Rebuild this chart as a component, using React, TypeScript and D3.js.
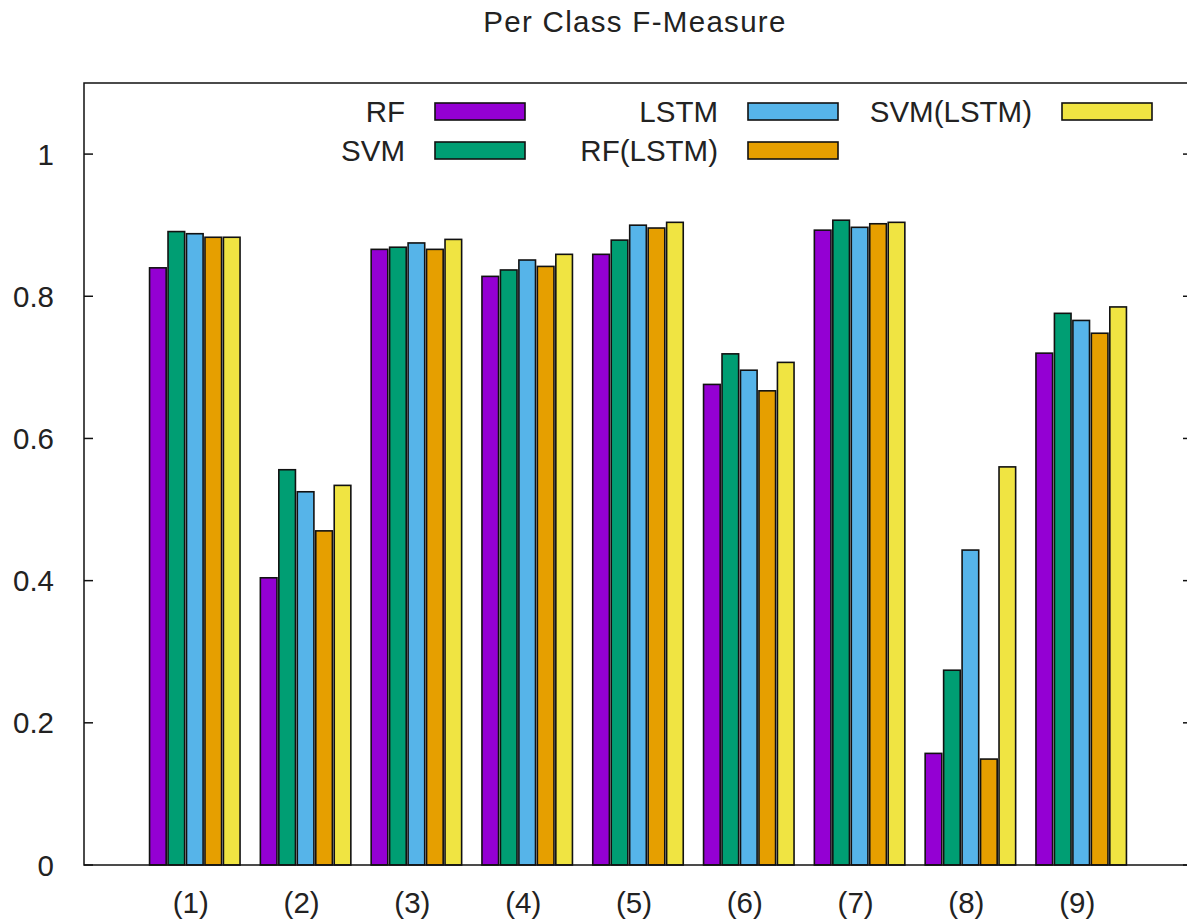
import React from 'react';
import * as d3 from 'd3';

const categories = ['(1)', '(2)', '(3)', '(4)', '(5)', '(6)', '(7)', '(8)', '(9)'];
const seriesNames = ['RF', 'SVM', 'LSTM', 'RF(LSTM)', 'SVM(LSTM)'];
const seriesColors = ['#9400d3', '#009e73', '#56b4e9', '#e69f00', '#f0e442'];

const rfValues = [0.840, 0.404, 0.866, 0.828, 0.859, 0.676, 0.893, 0.157, 0.720];
const svmValues = [0.891, 0.556, 0.869, 0.837, 0.879, 0.719, 0.907, 0.274, 0.776];
const lstmValues = [0.888, 0.525, 0.875, 0.851, 0.900, 0.696, 0.897, 0.443, 0.766];
const rfLstmValues = [0.883, 0.470, 0.866, 0.842, 0.896, 0.667, 0.902, 0.149, 0.748];
const svmLstmValues = [0.883, 0.534, 0.880, 0.859, 0.904, 0.707, 0.904, 0.560, 0.785];

const yTicks = [0, 0.2, 0.4, 0.6, 0.8, 1];

const W = 1187;
const H = 922;
const margin = { left: 84, top: 83, right: 1192, bottom: 865 };
const font = '"Liberation Sans", Arial, sans-serif';
const textColor = '#222';
const fs = 29.5;

export default function App() {
  const series = [rfValues, svmValues, lstmValues, rfLstmValues, svmLstmValues];

  // gnuplot style: x runs from -1 to n, one unit per cluster
  const x = d3.scaleLinear().domain([-1, categories.length]).range([margin.left, margin.right]);
  const y = d3.scaleLinear().domain([0, 1.1]).range([margin.bottom, margin.top]);

  const slot = 1 / (series.length + 1);
  const barW = x(0.9 * slot) - x(0);

  const legendCols = [435, 748, 1062];
  const legendRows = [111.5, 150.5];

  return (
    <svg width={W} height={H} style={{ position: 'absolute', left: 0, top: 0, background: '#fff' }}>
      <text x={635} y={32} textAnchor="middle" fontFamily={font} fontSize={fs} letterSpacing={1.3} fill={textColor}>
        Per Class F-Measure
      </text>

      {series.map((vals, j) =>
        vals.map((v, i) => {
          const cx = x(i + (j - (series.length - 1) / 2) * slot);
          return (
            <rect
              key={`${j}-${i}`}
              x={cx - barW / 2}
              y={y(v)}
              width={barW}
              height={y(0) - y(v)}
              fill={seriesColors[j]}
              stroke="#111"
              strokeWidth={1.6}
            />
          );
        })
      )}

      <rect
        x={margin.left}
        y={margin.top}
        width={margin.right - margin.left}
        height={margin.bottom - margin.top}
        fill="none"
        stroke="#111"
        strokeWidth={1.5}
      />

      {yTicks.map((t) => (
        <g key={t}>
          <line x1={margin.left} x2={margin.left + 9} y1={y(t)} y2={y(t)} stroke="#111" strokeWidth={1.5} />
          <line x1={margin.right - 9} x2={margin.right} y1={y(t)} y2={y(t)} stroke="#111" strokeWidth={1.5} />
          <text
            x={54}
            y={y(t)}
            dy="0.36em"
            textAnchor="end"
            fontFamily={font}
            fontSize={fs}
            fill={textColor}
          >
            {d3.format('~g')(t)}
          </text>
        </g>
      ))}

      {categories.map((c, i) => (
        <text
          key={c}
          x={x(i) - 4}
          y={913}
          textAnchor="middle"
          fontFamily={font}
          fontSize={fs}
          fill={textColor}
        >
          {c}
        </text>
      ))}

      {seriesNames.map((name, j) => {
        const col = Math.floor(j / 2);
        const row = j % 2;
        const sx = legendCols[col];
        const sy = legendRows[row];
        return (
          <g key={name}>
            <text
              x={sx - 30}
              y={sy}
              dy="0.36em"
              textAnchor="end"
              fontFamily={font}
              fontSize={fs}
              fill={textColor}
            >
              {name}
            </text>
            <rect x={sx} y={sy - 8.5} width={90} height={17} fill={seriesColors[j]} stroke="#111" strokeWidth={1.6} />
          </g>
        );
      })}
    </svg>
  );
}
